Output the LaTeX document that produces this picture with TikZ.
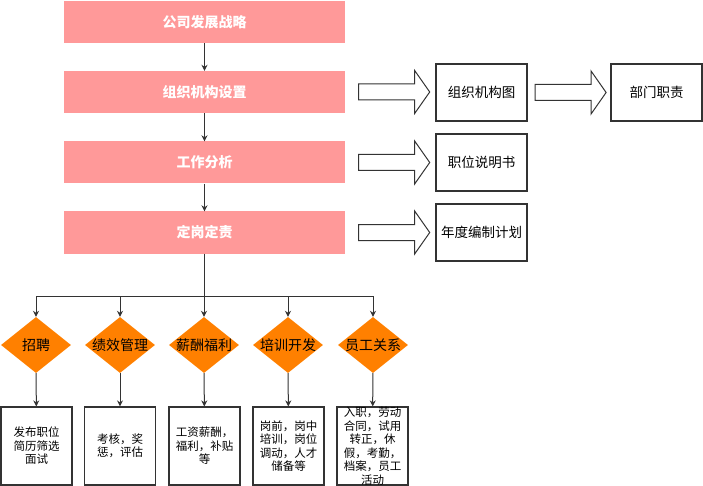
\documentclass[tikz,border=0pt]{standalone}
\usepackage{fontspec}
\setmainfont{Noto Sans CJK SC}
\usetikzlibrary{shapes.geometric,shapes.arrows,arrows.meta,calc}

\definecolor{stepred}{HTML}{FF9999}
\definecolor{areaorange}{HTML}{FF8000}
\definecolor{linegray}{HTML}{333333}

\tikzset{
  stage/.style={fill=stepred, minimum width=281pt, minimum height=42pt, inner sep=0pt,
    text=white, font=\fontsize{14}{16}\selectfont\bfseries},
  result/.style={draw=linegray, line width=1.2pt, fill=white, minimum width=91pt,
    minimum height=57pt, inner sep=0pt, font=\fontsize{13.5}{16}\selectfont},
  area/.style={diamond, fill=areaorange, aspect=1.25, minimum width=70pt,
    minimum height=56pt, inner sep=-2pt, font=\fontsize{14}{16}\selectfont},
  task/.style={draw=linegray, line width=1.2pt, minimum width=71pt, minimum height=78pt,
    label={[font=\fontsize{11.5}{13.5}\selectfont, align=center]center:{#1}}},
  blockarrow/.style={single arrow, draw=linegray, line width=1pt, fill=white,
    minimum height=71pt, inner xsep=0pt, inner ysep=7.5pt,
    single arrow head extend=13.5pt, single arrow tip angle=110, anchor=west},
  flow/.style={draw=linegray, line width=1pt, -{Stealth[length=6pt,width=6pt]}}
}

\begin{document}
\begin{tikzpicture}[x=1pt, y=-1pt]
  \useasboundingbox (0,0) rectangle (703,486);

  % main steps
  \node[stage] (strategy) at (204.5,22) {公司发展战略};
  \node[stage] (structure) at (204.5,92) {组织机构设置};
  \node[stage] (analysis) at (204.5,162.5) {工作分析};
  \node[stage] (posts) at (204.5,232.5) {定岗定责};
  \draw[flow] (strategy) -- (structure);
  \draw[flow] (structure) -- (analysis);
  \draw[flow] (analysis) -- (posts);

  % outputs on the right
  \node[result] (chart) at (481.5,92.5) {组织机构图};
  \node[result] (duties) at (656.5,92.5) {部门职责};
  \node[result] (manual) at (481.5,162.5) {职位说明书};
  \node[result] (quota) at (481.5,232.5) {年度编制计划};
  \node[blockarrow] (toChart) at ($(structure.east)+(13,0)$) {};
  \node[blockarrow] (toDuties) at ($(chart.east)+(7,0)$) {};
  \node[blockarrow] (toManual) at ($(analysis.east)+(13,0)$) {};
  \node[blockarrow] (toQuota) at ($(posts.east)+(13,0)$) {};

  % HR areas
  \node[area] (recruit) at (36,345) {招聘};
  \node[area] (perform) at (120,345) {绩效管理};
  \node[area] (salary) at (204,345) {薪酬福利};
  \node[area] (training) at (288,345) {培训开发};
  \node[area] (relation) at (373,345) {员工关系};

  \node[task={发布职位\\简历筛选\\面试}] (hire) at (36.5,446) {};
  \node[task={考核，奖\\惩，评估}] (appraise) at (120,446) {};
  \node[task={工资薪酬，\\福利，补贴\\等}] (pay) at (204.5,446) {};
  \node[task={岗前，岗中\\培训，岗位\\调动，人才\\储备等}] (develop) at (288.5,446) {};
  \node[task={入职，劳动\\合同，试用\\转正，休\\假，考勤，\\档案，员工\\活动}] (employ) at (372.5,446) {};

  \coordinate (split) at ($(posts.south)+(0,43)$);
  \draw[draw=linegray, line width=1pt] (posts.south) -- (split);
  \foreach \a in {recruit,perform,salary,training,relation}
    \draw[flow] (split) -| (\a.north);
  \foreach \a/\b in {recruit/hire,perform/appraise,salary/pay,training/develop,relation/employ}
    \draw[flow] (\a) -- (\b);
\end{tikzpicture}
\end{document}
